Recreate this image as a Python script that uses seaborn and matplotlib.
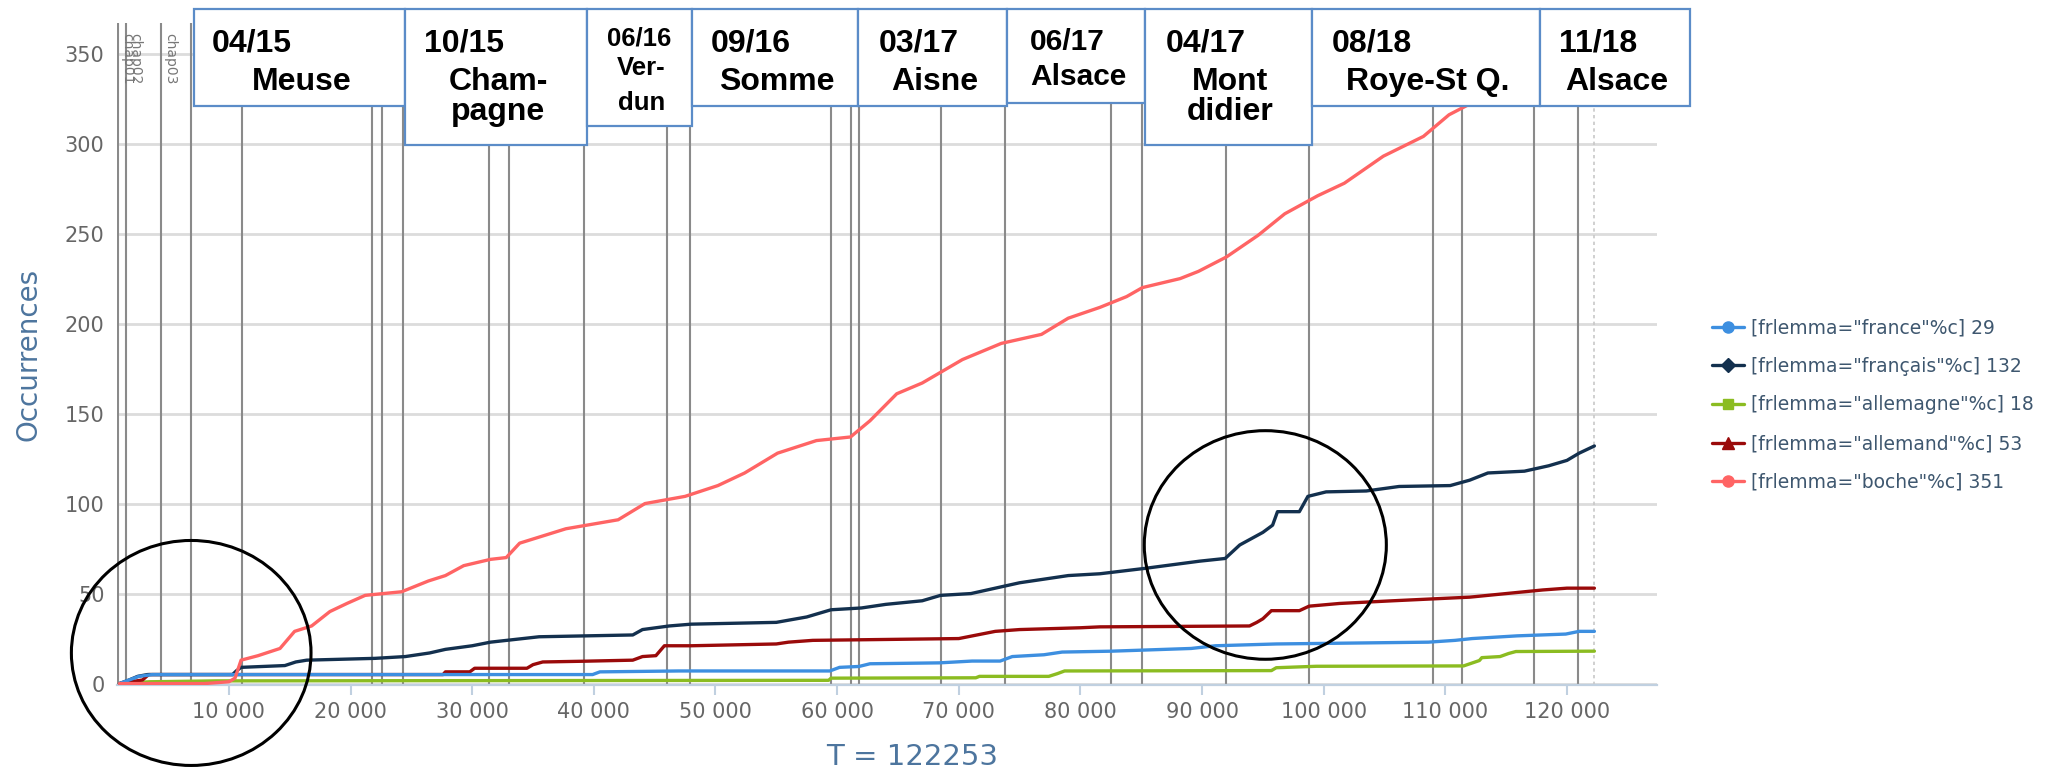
import pandas as pd
import seaborn as sns
import matplotlib.pyplot as plt
from matplotlib.patches import Ellipse, Rectangle
from matplotlib.lines import Line2D

# =========================
# Data: cumulative occurrences along the text (T)
# =========================

t_france = [1000, 1800, 2600, 3700, 32000, 39900, 40500, 47000, 59400, 60200, 61800, 62700,
            68400, 71100, 73400, 74400, 77000, 78500, 82600, 89100, 91100, 96100, 108600,
            110800, 112200, 115900, 119900, 121000, 122253]
occ_france = [0, 2, 4, 5, 5, 5, 6.5, 7, 7, 9, 9.5, 11, 11.5, 12.5, 12.5, 15, 16, 17.5, 18,
              19.5, 21, 22, 23, 24, 25, 26.5, 27.5, 29, 29]

t_francais = [1000, 1800, 2500, 3300, 10300, 10600, 11000, 14600, 15500, 16400, 22000, 24500,
              26500, 27800, 30000, 31500, 35500, 43200, 44000, 46200, 48000, 55000, 57500,
              59500, 62000, 64000, 67000, 68500, 71000, 73000, 75000, 77000, 79000, 81600,
              85300, 89800, 91900, 93100, 95000, 95800, 96200, 98000, 98700, 100200, 103500,
              106200, 110400, 112000, 113500, 116500, 118500, 120000, 121000, 122253]
occ_francais = [0, 2, 4, 5, 5, 7, 9, 10, 12, 13, 14, 15, 17, 19, 21, 23, 26, 27, 30, 32, 33,
                34, 37, 41, 42, 44, 46, 49, 50, 53, 56, 58, 60, 61, 64, 68, 69.5, 77, 84, 88,
                95.5, 95.5, 104, 106.5, 107, 109.5, 110, 113, 117, 118, 121, 124, 128, 132]

t_allemagne = [1000, 3500, 9000, 59300, 59500, 71400, 71700, 77400, 78100, 78700, 95700, 96100,
               99400, 111500, 112800, 113000, 114500, 115200, 115800, 122253]
occ_allemagne = [0, 1, 1.5, 1.8, 3, 3.2, 4, 4, 5.5, 7, 7.2, 8.8, 9.6, 9.8, 12.8, 14.4, 15, 16.7,
                 17.8, 18]

t_allemand = [1000, 2900, 3400, 27600, 27800, 29800, 30200, 34500, 35000, 35800, 39100, 43200,
              44000, 45100, 45800, 48000, 55000, 56000, 58000, 70000, 71500, 73000, 75000,
              80000, 81600, 93900, 94500, 95000, 95700, 98000, 98800, 101300, 105700, 110400,
              112000, 115000, 118000, 120000, 122253]
occ_allemand = [0, 2, 5, 5, 6.5, 6.5, 8.5, 8.5, 10.5, 12, 12.4, 13, 15, 15.5, 21, 21, 22, 23,
                24, 25, 27, 29, 30, 31, 31.5, 32, 34, 36, 40.5, 40.5, 43, 44.5, 46, 47.5, 48,
                50, 52, 53, 53]

t_boche = [1000, 8000, 10000, 10500, 11000, 12400, 14200, 15400, 16800, 18300, 19700, 21200,
           24200, 26400, 27800, 29300, 31500, 32800, 33900, 37700, 42000, 44200, 47500, 50200,
           52400, 55100, 58300, 61100, 62700, 64900, 67000, 70300, 73500, 76800, 79000, 81600,
           83800, 85100, 88200, 89700, 92000, 94600, 96800, 99500, 101700, 104900, 108200,
           110300, 112300, 116000, 119000, 122253]
occ_boche = [0, 0, 1, 3, 13, 15.5, 19.5, 29, 32, 40, 44.5, 49, 51, 57, 60, 65.5, 69, 70, 78,
             86, 91, 100, 104, 110, 117, 128, 135, 137, 146, 161, 167, 180, 189, 194, 203, 209,
             215, 220, 225, 229, 237, 249, 261, 271, 278, 293, 304, 316, 323, 335, 344, 351]

series_names = ['france', 'français', 'allemagne', 'allemand', 'boche']
series_totals = [29, 132, 18, 53, 351]
series_colors = ['#3d8fe0', '#13304e', '#8bbc21', '#9a0a0a', '#ff6464']
series_markers = ['o', 'D', 's', '^', 'o']
series_t = [t_france, t_francais, t_allemagne, t_allemand, t_boche]
series_occ = [occ_france, occ_francais, occ_allemagne, occ_allemand, occ_boche]
draw_order = [2, 3, 1, 0, 4]   # which curve ends up on top

# chapter boundaries (vertical lines) and the T total
chapter_t = [900, 1560, 4440, 6900, 11100, 21800, 22600, 24300, 31400, 33000, 39200, 46000,
             47900, 59500, 61100, 61800, 68500, 73800, 82500, 85100, 92000, 98800, 109000,
             111400, 117300, 120900]
chapter_labels = ['chap01', 'chap02', 'chap03']
t_total = 122253

# campaign boxes at the top
box_dates = ['04/15', '10/15', '06/16', '09/16', '03/17', '06/17', '04/17', '08/18', '11/18']
box_names = [['Meuse'], ['Cham-', 'pagne'], ['Ver-', 'dun'], ['Somme'], ['Aisne'],
             ['Alsace'], ['Mont', 'didier'], ['Roye-St Q.'], ['Alsace']]

# circled zones (centre T, centre occ, width T, height occ)
circles = [(6900, 17, 19700, 125), (95200, 77, 19900, 127)]

# =========================
# Figure
# =========================

W, H = 2067, 772
sns.set_theme(style='white')
plt.rcParams['font.family'] = ['DejaVu Sans']

fig = plt.figure(figsize=(W / 100, H / 100), dpi=100)
ax = fig.add_axes([117 / W, 1 - 685 / H, (1657 - 117) / W, (685 - 23) / H])


def px(x, y):
    return x / W, 1 - y / H


# chapter lines first, behind the curves
for t in chapter_t:
    ax.axvline(t, color='#8a8a8a', lw=1.5, zorder=1)
ax.axvline(t_total, color='#c8c8c8', lw=1.2, ls=(0, (2, 2)), zorder=1)

for k, i in enumerate(draw_order):
    df = pd.DataFrame({'T': series_t[i], 'occ': series_occ[i]})
    sns.lineplot(data=df, x='T', y='occ', color=series_colors[i], estimator=None,
                 sort=False, lw=2.4, ax=ax, zorder=3 + k)

ax.set_xlim(800, 127400)
ax.set_ylim(-0.8, 367)
ax.set_xticks(range(10000, 130000, 10000))
ax.set_xticklabels([f'{v:,}'.replace(',', ' ') for v in range(10000, 130000, 10000)])
ax.set_yticks(range(0, 400, 50))
ax.tick_params(axis='x', colors='#c0d0e0', length=7, width=1.5, pad=5, labelsize=15,
               labelcolor='#666666', bottom=True)
ax.tick_params(axis='y', length=0, pad=9, labelsize=15, labelcolor='#666666')
ax.yaxis.grid(True, color='#dcdcdc', lw=2)
ax.set_axisbelow(True)
for s in ['top', 'right', 'left']:
    ax.spines[s].set_visible(False)
ax.spines['bottom'].set_color('#c0d0e0')
ax.spines['bottom'].set_linewidth(1.6)
ax.set_xlabel('')
ax.set_ylabel('')

fig.text(*px(29, 354), 'Occurrences', rotation=90, ha='center', va='center',
         fontsize=20, color='#4d759e')
fig.text(*px(912, 757), f'T = {t_total}', ha='center', va='center',
         fontsize=21, color='#4d759e')

# chapter names near the top of the first lines
for t, lab in zip(chapter_t[:3], chapter_labels):
    ax.text(t + 150, 0.985, lab, rotation=-90, ha='left', va='top', fontsize=10,
            color='#777777', transform=ax.get_xaxis_transform())

# circles
for cx, cy, w, h in circles:
    ax.add_patch(Ellipse((cx, cy), w, h, fill=False, ec='black', lw=2.2,
                         clip_on=False, zorder=20))

# legend
handles = [Line2D([], [], color=c, marker=m, lw=2.4,
                  markersize=7 if m in ('D', 's') else 8)
           for c, m in zip(series_colors, series_markers)]
labels = [f'[frlemma="{n}"%c] {tot}' for n, tot in zip(series_names, series_totals)]
fig.legend(handles, labels, loc='center left', bbox_to_anchor=px(1712, 405),
           frameon=False, fontsize=13.5, labelcolor='#3e576f', handlelength=1.7,
           handletextpad=0.4, labelspacing=1.05, borderpad=0, borderaxespad=0)

# campaign boxes (pixel layout)
box_x = [(194, 405), (405, 587), (587, 692), (692, 858), (858, 1007), (1007, 1145),
         (1145, 1312), (1312, 1540), (1540, 1690)]
box_bottom = [106, 145, 126, 106, 106, 103, 145, 106, 106]
date_x = [212, 424, None, 711, 879, 1030, 1166, 1332, 1559]
box_font = [23, 23, 18.5, 23, 23, 21.5, 23, 23, 23]
box_top = 9
for i, ((x0, x1), yb) in enumerate(zip(box_x, box_bottom)):
    fx0, fy1 = px(x0, box_top)
    fx1, fy0 = px(x1, yb)
    fig.add_artist(Rectangle((fx0, fy0), fx1 - fx0, fy1 - fy0, transform=fig.transFigure,
                             fc='white', ec='#5b8cc8', lw=1.6, zorder=10))
    fs = box_font[i]
    if i == 2:
        base = [45, 75, 110]
    elif i == 5:
        base = [50, 85, 120]
    else:
        base = [52, 90, 120]
    xc = (x0 + x1) / 2
    if date_x[i] is None:
        fig.text(*px(xc, base[0]), box_dates[i], ha='center', va='baseline', fontsize=fs,
                 fontweight='bold', family='Liberation Sans', color='black', zorder=11)
    else:
        fig.text(*px(date_x[i], base[0]), box_dates[i], ha='left', va='baseline',
                 fontsize=fs, fontweight='bold', family='Liberation Sans', color='black',
                 zorder=11)
    for j, line in enumerate(box_names[i]):
        fig.text(*px(xc + 2, base[1 + j]), line, ha='center', va='baseline', fontsize=fs,
                 fontweight='bold', family='Liberation Sans', color='black', zorder=11)

fig.savefig('out.png', dpi=100)
